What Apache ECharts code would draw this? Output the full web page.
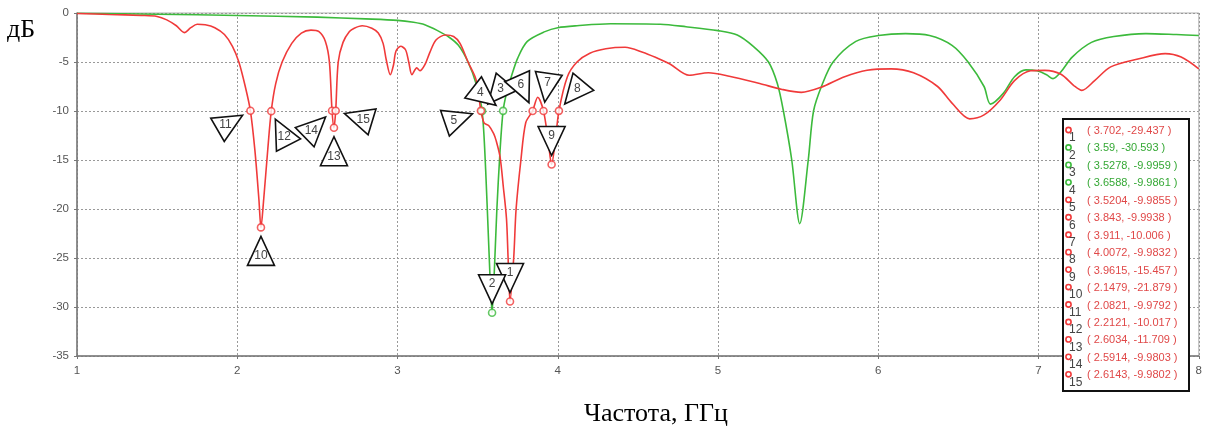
<!DOCTYPE html>
<html><head><meta charset="utf-8">
<script src="https://cdn.jsdelivr.net/npm/echarts@6/dist/echarts.min.js"></script>
<style>html,body{margin:0;padding:0;background:#fff}#c{width:1205px;height:434px}</style>
</head><body><div id="c"></div>
<script>
// ---- data ----
const yAxisTitle = 'дБ';
const xAxisTitle = 'Частота, ГГц';

const redX = [1.00,1.20,1.40,1.50,1.56,1.62,1.67,1.71,1.75,1.80,1.86,1.92,1.97,2.01,2.05,2.0821,2.11,2.135,2.1479,2.165,2.19,2.2121,2.24,2.28,2.34,2.40,2.46,2.51,2.55,2.575,2.5914,2.6034,2.6143,2.63,2.66,2.70,2.73,2.78,2.84,2.88,2.91,2.93,2.955,2.975,2.99,3.02,3.05,3.07,3.09,3.12,3.14,3.17,3.20,3.24,3.30,3.35,3.39,3.44,3.49,3.5204,3.54,3.57,3.60,3.615,3.64,3.66,3.68,3.69,3.702,3.725,3.74,3.77,3.80,3.843,3.875,3.911,3.94,3.9615,3.985,4.0072,4.06,4.12,4.20,4.30,4.42,4.53,4.62,4.70,4.82,4.94,5.07,5.26,5.40,5.52,5.64,5.79,5.93,6.08,6.22,6.37,6.46,6.57,6.66,6.76,6.85,6.95,7.04,7.14,7.22,7.27,7.35,7.45,7.62,7.79,7.89,8.00];
const redY = [-0.05,-0.15,-0.25,-0.35,-0.7,-1.3,-2.0,-1.5,-1.15,-1.2,-1.5,-2.2,-3.4,-5.0,-7.5,-9.98,-14,-19,-21.88,-19,-14,-10.02,-7.2,-5.0,-3.1,-2.05,-1.75,-1.9,-2.9,-5.0,-9.98,-11.71,-9.98,-5.0,-3.0,-1.9,-1.55,-1.3,-1.55,-2.05,-3.1,-4.8,-6.3,-5.3,-3.9,-3.4,-3.75,-5.0,-6.3,-5.6,-5.9,-5.3,-4.1,-2.75,-2.25,-2.4,-3.1,-5.0,-6.8,-9.99,-11.2,-11.5,-12.3,-13,-14.7,-17.7,-21,-25,-29.44,-25,-20,-15,-11.2,-9.99,-8.6,-10.01,-13,-15.46,-13,-9.98,-6.5,-5.0,-4.1,-3.65,-3.5,-4.0,-4.6,-5.2,-6.35,-6.1,-6.45,-7.2,-7.8,-8.1,-7.6,-6.5,-5.85,-5.7,-6.1,-7.5,-9.2,-10.8,-10.4,-8.9,-6.9,-5.9,-5.85,-6.25,-7.4,-7.9,-6.9,-5.5,-4.7,-4.15,-4.5,-5.7];

const greenX = [1.00,1.50,2.00,2.50,2.80,3.00,3.10,3.17,3.25,3.32,3.38,3.44,3.49,3.5278,3.55,3.57,3.59,3.605,3.62,3.64,3.6588,3.68,3.71,3.75,3.81,3.92,4.00,4.12,4.33,4.64,4.80,5.00,5.12,5.22,5.315,5.37,5.408,5.46,5.51,5.563,5.596,5.65,5.718,5.86,6.00,6.17,6.32,6.46,6.56,6.66,6.70,6.78,6.85,6.92,6.99,7.05,7.09,7.14,7.21,7.33,7.47,7.67,7.86,8.00];
const greenY = [-0.02,-0.12,-0.25,-0.42,-0.6,-0.75,-0.95,-1.2,-1.8,-2.45,-3.3,-5.0,-7.2,-9.996,-16,-24,-30.59,-26,-20,-14,-9.986,-8.2,-6.5,-4.6,-2.9,-1.9,-1.5,-1.3,-1.1,-1.15,-1.4,-1.8,-2.24,-3.4,-5.0,-7.2,-10,-15,-21.5,-15,-10,-7.3,-5.0,-2.9,-2.3,-2.1,-2.3,-3.3,-5.0,-7.5,-9.3,-8.2,-6.5,-5.8,-5.9,-6.3,-6.7,-6.0,-4.5,-3.0,-2.4,-2.1,-2.2,-2.3];

const markerX = [3.702,3.59,3.5278,3.6588,3.5204,3.843,3.911,4.0072,3.9615,2.1479,2.0821,2.2121,2.6034,2.5914,2.6143];
const markerY = [-29.437,-30.593,-9.9959,-9.9861,-9.9855,-9.9938,-10.006,-9.9832,-15.457,-21.879,-9.9792,-10.017,-11.709,-9.9803,-9.9802];
const markerTrace = ['red','green','green','green','red','red','red','red','red','red','red','red','red','red','red'];

// ---- style ----
const RED = '#f03a3a', GREEN = '#3cba3c';
const RED_TXT = '#e04848', GREEN_TXT = '#35a835';
const calloutAngle = [-90,-90,-50,-142,161,-114,-82,-50,-90,90,150,63,90,136,17];

const chart = echarts.init(document.getElementById('c'), null, {renderer:'canvas'});

const redData = redX.map((x,i)=>[x, redY[i]]);
const greenData = greenX.map((x,i)=>[x, greenY[i]]);
const markData = markerX.map((x,i)=>({value:[x, markerY[i], i],
  itemStyle:{color:'#fff', borderWidth:1.6, borderColor: markerTrace[i]==='red'?RED:GREEN}}));

// legend box graphics
const lg = [];
const boxL = 1062, boxT = 118, rowH = 17.45;
lg.push({type:'rect', left:boxL, top:boxT, shape:{width:126, height:272}, style:{fill:'#fff', stroke:'#111', lineWidth:2}, z:100});
markerX.forEach((x,i)=>{
  const cy = boxT + 13 + i*rowH;
  const col = markerTrace[i]==='red' ? RED : GREEN;
  const tcol = markerTrace[i]==='red' ? RED_TXT : GREEN_TXT;
  lg.push({type:'circle', shape:{cx:boxL+6.5, cy:cy-1, r:2.6}, style:{fill:'none', stroke:col, lineWidth:1.6}, z:101});
  lg.push({type:'text', x:boxL+7, y:cy+7, style:{text:String(i+1), fill:'#444', font:'12px "Liberation Sans"', align:'left', verticalAlign:'middle'}, z:101});
  lg.push({type:'text', x:boxL+25, y:cy, style:{text:'( ' + String(x) + ', ' + String(markerY[i]) + ' )', fill:tcol, font:'11px "Liberation Sans"', align:'left', verticalAlign:'middle'}, z:101});
});
lg.push({type:'text', left:7, top:17, style:{text:yAxisTitle, fill:'#000', font:'26px "Liberation Serif"'}, z:100});
lg.push({type:'text', x:656, y:414, style:{text:xAxisTitle, fill:'#000', font:'26px "Liberation Serif"', align:'center', verticalAlign:'middle'}, z:100});

const option = {
  animation:false,
  backgroundColor:'#fff',
  grid:{left:77, right:1, top:13, bottom:78, show:true, borderColor:'#b0b0b0', borderWidth:1},
  xAxis:{type:'value', min:1, max:8, interval:1,
    axisLine:{onZero:false, lineStyle:{color:'#777', width:1.5}},
    axisTick:{show:true, length:3, lineStyle:{color:'#777'}},
    axisLabel:{color:'#555', fontSize:11.5, fontFamily:'Liberation Sans', margin:9},
    splitLine:{show:true, lineStyle:{color:'#999', type:[2,2], width:1}}},
  yAxis:{type:'value', min:-35, max:0, interval:5,
    axisLine:{show:true, onZero:false, lineStyle:{color:'#777', width:1.5}},
    axisTick:{show:true, length:3, lineStyle:{color:'#777'}},
    axisLabel:{color:'#555', fontSize:11.5, fontFamily:'Liberation Sans', margin:8},
    splitLine:{show:true, lineStyle:{color:'#999', type:[2,2], width:1}}},
  series:[
    {type:'line', data:greenData, showSymbol:false, smooth:0.3, lineStyle:{color:GREEN, width:1.6}, z:2},
    {type:'line', data:redData, showSymbol:false, smooth:0.3, lineStyle:{color:RED, width:1.6}, z:3},
    {type:'scatter', data:markData, symbol:'circle', symbolSize:7, z:5},
    {type:'custom', data:markData, clip:false, z:6,
      renderItem:function(params, api){
        const i = params.dataIndex;
        const p = api.coord([api.value(0), api.value(1)]);
        const a = calloutAngle[i]*Math.PI/180;
        const dx = Math.cos(a), dy = Math.sin(a);
        const gap = 9, L = 29, W = 13.5;
        const ax = p[0]+gap*dx, ay = p[1]+gap*dy;
        const bx = ax+L*dx, by = ay+L*dy;
        const pts = [[ax,ay],[bx - W*dy, by + W*dx],[bx + W*dy, by - W*dx]];
        return {type:'group', children:[
          {type:'polygon', shape:{points:pts}, style:{fill:'#fff', stroke:'#111', lineWidth:1.6}},
          {type:'text', style:{text:String(i+1), x:ax+0.68*L*dx, y:ay+0.68*L*dy, align:'center', verticalAlign:'middle', fill:'#444', font:'12px "Liberation Sans"'}}
        ]};
      }}
  ],
  graphic:lg
};
chart.setOption(option);
</script></body></html>
